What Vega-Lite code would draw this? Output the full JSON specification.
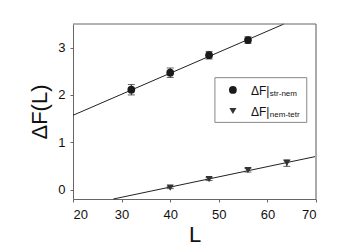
{
  "$schema": "https://vega.github.io/schema/vega-lite/v6.json",
  "autosize": "none",
  "width": 243,
  "height": 175,
  "padding": {"left": 73, "top": 24, "right": 46, "bottom": 53},
  "background": "white",
  "config": {
    "view": {"stroke": null},
    "font": "Liberation Sans",
    "axis": {"grid": false, "domainColor": "#666", "tickColor": "#666", "tickSize": 3, "labelColor": "#111", "labelFontSize": 13, "titleColor": "#111", "titleFontSize": 22, "titleFontWeight": "normal", "labelFont": "Liberation Sans", "titleFont": "Liberation Sans"}
  },
  "datasets": {
    "pts": [
      {"L": 32, "F": 2.11, "lo": 2.00, "hi": 2.22, "series": "str-nem"},
      {"L": 40, "F": 2.47, "lo": 2.37, "hi": 2.57, "series": "str-nem"},
      {"L": 48, "F": 2.84, "lo": 2.76, "hi": 2.92, "series": "str-nem"},
      {"L": 56, "F": 3.16, "lo": 3.09, "hi": 3.23, "series": "str-nem"},
      {"L": 40, "F": 0.04, "lo": 0.02, "hi": 0.06, "series": "nem-tetr"},
      {"L": 48, "F": 0.22, "lo": 0.19, "hi": 0.25, "series": "nem-tetr"},
      {"L": 56, "F": 0.41, "lo": 0.37, "hi": 0.45, "series": "nem-tetr"},
      {"L": 64, "F": 0.56, "lo": 0.49, "hi": 0.63, "series": "nem-tetr"}
    ],
    "fits": [
      {"L": 20, "F": 1.57, "series": "str-nem"},
      {"L": 63.4, "F": 3.5, "series": "str-nem"},
      {"L": 28.3, "F": -0.2, "series": "nem-tetr"},
      {"L": 70, "F": 0.70, "series": "nem-tetr"}
    ],
    "legend": [
      {"L": 52.9, "F": 2.105, "Lt": 56.6, "Ls": 60.5, "main": "ΔF|", "sub": "str-nem", "series": "str-nem"},
      {"L": 52.9, "F": 1.66, "Lt": 56.6, "Ls": 60.5, "main": "ΔF|", "sub": "nem-tetr", "series": "nem-tetr"}
    ]
  },
  "encoding": {
    "x": {"type": "quantitative", "scale": {"domain": [20, 70], "nice": false, "zero": false}},
    "y": {"type": "quantitative", "scale": {"domain": [-0.2, 3.5], "nice": false, "zero": false}}
  },
  "layer": [
    {
      "data": {"name": "fits"},
      "mark": {"type": "line", "color": "#222", "strokeWidth": 1},
      "encoding": {
        "x": {"field": "L", "type": "quantitative", "axis": {"title": "L", "values": [20, 30, 40, 50, 60, 70], "labelPadding": 6, "titlePadding": 3}},
        "y": {"field": "F", "type": "quantitative", "axis": {"title": "ΔF(L)", "values": [0, 1, 2, 3], "labelPadding": 5, "titlePadding": 6}},
        "detail": {"field": "series"}
      }
    },
    {
      "data": {"values": [{}]},
      "mark": {"type": "rule", "color": "#aaa", "strokeWidth": 2},
      "encoding": {"x": {"datum": 70}, "y": {"datum": -0.2}, "y2": {"datum": 3.5}}
    },
    {
      "data": {"values": [{}]},
      "mark": {"type": "rule", "color": "#666", "strokeWidth": 1},
      "encoding": {"y": {"datum": 3.5}, "x": {"datum": 20}, "x2": {"datum": 70}}
    },
    {
      "data": {"name": "pts"},
      "mark": {"type": "rule", "color": "#222", "strokeWidth": 1},
      "encoding": {"x": {"field": "L"}, "y": {"field": "lo"}, "y2": {"field": "hi"}}
    },
    {
      "data": {"name": "pts"},
      "mark": {"type": "tick", "color": "#222", "orient": "horizontal", "size": 7, "thickness": 1},
      "encoding": {"x": {"field": "L"}, "y": {"field": "lo"}}
    },
    {
      "data": {"name": "pts"},
      "mark": {"type": "tick", "color": "#222", "orient": "horizontal", "size": 7, "thickness": 1},
      "encoding": {"x": {"field": "L"}, "y": {"field": "hi"}}
    },
    {
      "data": {"name": "pts"},
      "mark": {"type": "point", "filled": true, "opacity": 1},
      "encoding": {
        "x": {"field": "L"},
        "y": {"field": "F"},
        "shape": {"field": "series", "type": "nominal", "scale": {"domain": ["str-nem", "nem-tetr"], "range": ["circle", "triangle-down"]}, "legend": null},
        "color": {"field": "series", "type": "nominal", "scale": {"domain": ["str-nem", "nem-tetr"], "range": ["#1a1a1a", "#333333"]}, "legend": null},
        "size": {"field": "series", "type": "nominal", "scale": {"domain": ["str-nem", "nem-tetr"], "range": [60, 50]}, "legend": null}
      }
    },
    {
      "data": {"values": [{}]},
      "mark": {"type": "rect", "fill": "white", "stroke": "#888", "strokeWidth": 1},
      "encoding": {"x": {"datum": 49.2}, "x2": {"datum": 68.1}, "y": {"datum": 1.42}, "y2": {"datum": 2.365}}
    },
    {
      "data": {"name": "legend"},
      "mark": {"type": "point", "filled": true, "opacity": 1},
      "encoding": {
        "x": {"field": "L"},
        "y": {"field": "F"},
        "shape": {"field": "series", "type": "nominal", "scale": {"domain": ["str-nem", "nem-tetr"], "range": ["circle", "triangle-down"]}, "legend": null},
        "color": {"field": "series", "type": "nominal", "scale": {"domain": ["str-nem", "nem-tetr"], "range": ["#1a1a1a", "#333333"]}, "legend": null},
        "size": {"field": "series", "type": "nominal", "scale": {"domain": ["str-nem", "nem-tetr"], "range": [50, 40]}, "legend": null}
      }
    },
    {
      "data": {"name": "legend"},
      "mark": {"type": "text", "align": "left", "baseline": "middle", "fontSize": 12, "dy": 1, "color": "#111", "font": "Liberation Sans"},
      "encoding": {"x": {"field": "Lt"}, "y": {"field": "F"}, "text": {"field": "main"}}
    },
    {
      "data": {"name": "legend"},
      "mark": {"type": "text", "align": "left", "baseline": "middle", "fontSize": 8, "dy": 4, "color": "#111", "font": "Liberation Sans"},
      "encoding": {"x": {"field": "Ls"}, "y": {"field": "F"}, "text": {"field": "sub"}}
    }
  ]
}
